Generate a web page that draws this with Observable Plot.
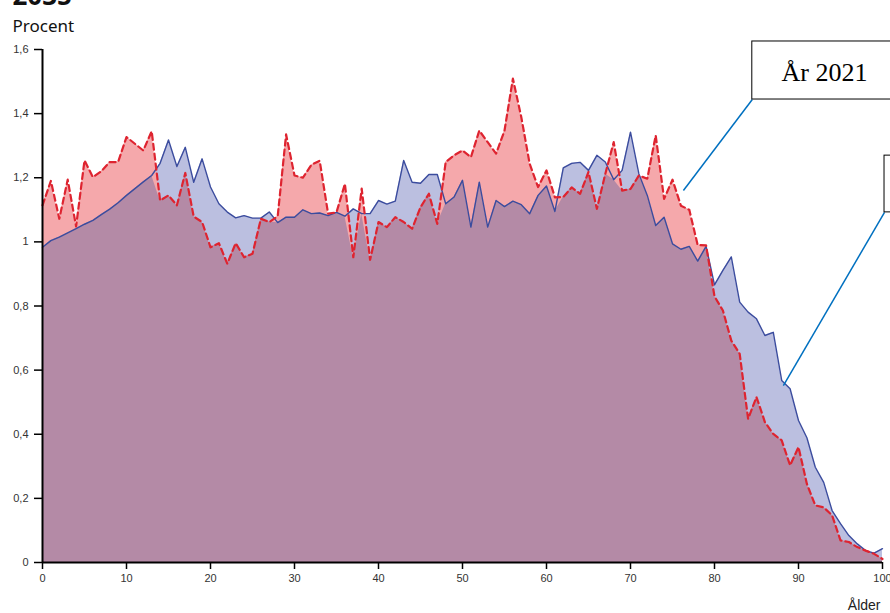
<!DOCTYPE html>
<html>
<head>
<meta charset="utf-8">
<script src="https://cdn.jsdelivr.net/npm/d3@7"></script>
<script src="https://cdn.jsdelivr.net/npm/@observablehq/plot@0.6"></script>
<style>
  html, body { margin: 0; padding: 0; background: white; overflow: hidden; }
  #chart { width: 890px; height: 613px; }
</style>
</head>
<body>
<div id="chart"></div>
<script>
const ages = [0,1,2,3,4,5,6,7,8,9,10,11,12,13,14,15,16,17,18,19,20,21,22,23,24,25,26,27,28,29,30,31,32,33,34,35,36,37,38,39,40,41,42,43,44,45,46,47,48,49,50,51,52,53,54,55,56,57,58,59,60,61,62,63,64,65,66,67,68,69,70,71,72,73,74,75,76,77,78,79,80,81,82,83,84,85,86,87,88,89,90,91,92,93,94,95,96,97,98,99,100];

// År 2035 (solid blue)
const values2035 = [0.983,1.004,1.015,1.028,1.041,1.055,1.067,1.085,1.102,1.122,1.145,1.166,1.187,1.207,1.245,1.318,1.235,1.295,1.186,1.259,1.171,1.119,1.093,1.075,1.082,1.074,1.074,1.093,1.06,1.077,1.077,1.1,1.088,1.09,1.082,1.092,1.08,1.103,1.088,1.088,1.129,1.118,1.127,1.254,1.186,1.183,1.21,1.21,1.119,1.14,1.192,1.046,1.186,1.046,1.129,1.11,1.127,1.116,1.088,1.145,1.174,1.095,1.231,1.245,1.248,1.223,1.27,1.249,1.194,1.223,1.342,1.212,1.145,1.051,1.077,0.994,0.977,0.986,0.94,0.986,0.866,0.911,0.953,0.812,0.781,0.76,0.708,0.718,0.568,0.542,0.443,0.389,0.297,0.25,0.162,0.121,0.084,0.058,0.037,0.029,0.043];

// År 2021 (dashed red)
const values2021 = [1.114,1.19,1.072,1.194,1.048,1.254,1.202,1.22,1.249,1.249,1.327,1.306,1.285,1.345,1.129,1.145,1.114,1.215,1.079,1.062,0.983,0.996,0.932,0.996,0.952,0.963,1.072,1.062,1.08,1.335,1.207,1.2,1.24,1.253,1.088,1.092,1.181,0.952,1.166,0.944,1.062,1.046,1.077,1.062,1.041,1.108,1.15,1.056,1.249,1.27,1.285,1.264,1.347,1.311,1.275,1.347,1.509,1.389,1.243,1.171,1.223,1.139,1.14,1.17,1.15,1.218,1.103,1.212,1.311,1.16,1.165,1.207,1.197,1.332,1.134,1.194,1.113,1.1,0.99,0.989,0.83,0.786,0.692,0.651,0.448,0.516,0.438,0.401,0.381,0.303,0.36,0.245,0.178,0.172,0.147,0.069,0.064,0.048,0.037,0.027,0.011];

const xTicks = [0,10,20,30,40,50,60,70,80,90,100];
const xTickLabels = ["0","10","20","30","40","50","60","70","80","90","100"];
const yTicks = [0,0.2,0.4,0.6,0.8,1,1.2,1.4,1.6];
const yTickLabels = ["0","0,2","0,4","0,6","0,8","1","1,2","1,4","1,6"];

// Callout boxes (in data units: age, percent)
const callouts = [
  {label: "År 2021", x1: 84.5, x2: 101.9, y1: 1.444, y2: 1.625, tx: 93.1, ty: 1.528, fromX: 84.5, fromY: 1.444, toX: 76.3, toY: 1.160},
  {label: "År 2035", x1: 100.24, x2: 118, y1: 1.092, y2: 1.269, tx: 109.1, ty: 1.18, fromX: 100.24, fromY: 1.092, toX: 88.2, toY: 0.552}
];

const table = ages.map((a, i) => ({
  age: a,
  v2021: values2021[i],
  v2035: values2035[i],
  vmin: Math.min(values2021[i], values2035[i])
}));

const chart = Plot.plot({
  width: 890,
  height: 613,
  marginLeft: 42,
  marginRight: 8,
  marginTop: 49,
  marginBottom: 51,
  x: {domain: [0, 100], axis: null},
  y: {domain: [0, 1.6], axis: null},
  style: {fontFamily: "'Liberation Sans', Arial, sans-serif", fontSize: "11px", background: "white", overflow: "visible"},
  marks: [
    Plot.areaY(table, {x: "age", y: "v2035", fill: "#bbbfe0", curve: "linear"}),
    Plot.areaY(table, {x: "age", y: "v2021", fill: "#f5a8ab", curve: "linear"}),
    Plot.areaY(table, {x: "age", y: "vmin", fill: "#b48aa6", curve: "linear"}),
    Plot.lineY(table, {x: "age", y: "v2035", stroke: "#3b4c9e", strokeWidth: 1.4}),
    Plot.lineY(table, {x: "age", y: "v2021", stroke: "#de2430", strokeWidth: 2.2, strokeDasharray: "6,4"}),
    Plot.axisY(yTicks, {anchor: "left", tickSize: 8, tickPadding: 6, tickFormat: d => yTickLabels[yTicks.indexOf(d)], stroke: "black", strokeWidth: 1.5, fill: "#333", fontSize: 11}),
    Plot.axisX(xTicks, {anchor: "bottom", tickSize: 7, tickPadding: 5, tickFormat: d => xTickLabels[xTicks.indexOf(d)], stroke: "black", strokeWidth: 1.5, fill: "#333", fontSize: 11}),
    Plot.ruleX([0], {stroke: "black", strokeWidth: 2}),
    Plot.ruleY([0], {stroke: "black", strokeWidth: 2}),
    Plot.link(callouts, {x1: "fromX", y1: "fromY", x2: "toX", y2: "toY", stroke: "#0070c0", strokeWidth: 1.5, clip: false}),
    Plot.rect(callouts, {x1: "x1", x2: "x2", y1: "y1", y2: "y2", fill: "white", stroke: "black", strokeWidth: 1}),
    Plot.text(callouts, {x: "tx", y: "ty", text: "label", fontFamily: "'Liberation Serif', 'Times New Roman', serif", fontSize: 26, fill: "black", textAnchor: "middle", lineAnchor: "middle"}),
    Plot.text(["Procent"], {frameAnchor: "top-left", dx: -30, dy: -23, textAnchor: "start", lineAnchor: "middle", fontFamily: "'Noto Sans', 'Open Sans', sans-serif", fontSize: 17, fill: "#111"}),
    Plot.text(["2035"], {frameAnchor: "top-left", dx: -30, dy: -45, textAnchor: "start", lineAnchor: "bottom", fontFamily: "'Noto Sans', sans-serif", fontWeight: "bold", fontSize: 26, fill: "#111"}),
    Plot.text(["Ålder"], {frameAnchor: "bottom-right", dx: -2, dy: 43, textAnchor: "end", lineAnchor: "middle", fontSize: 14, fill: "#222"})
  ]
});

document.getElementById("chart").appendChild(chart);
</script>
</body>
</html>
